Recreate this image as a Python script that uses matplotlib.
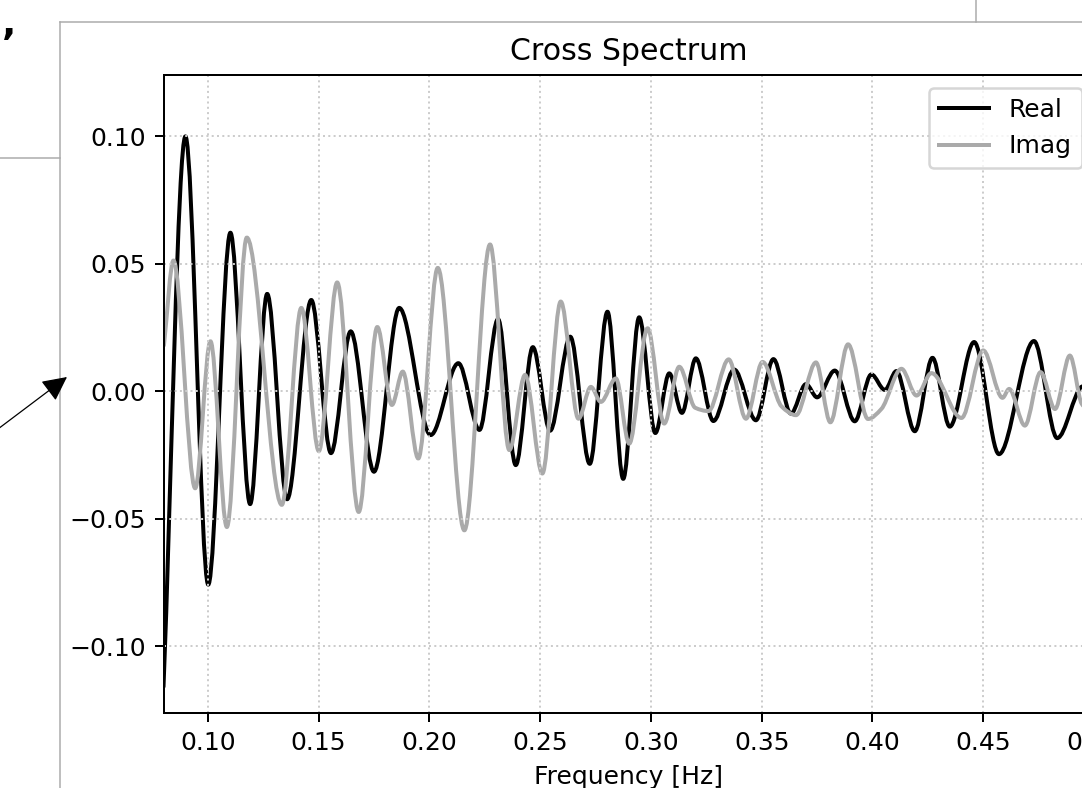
import matplotlib
matplotlib.use("Agg")
import matplotlib.pyplot as plt
import numpy as np
from matplotlib.lines import Line2D
from matplotlib.path import Path
from matplotlib.patches import PathPatch
from matplotlib.text import Annotation

DPI = 180

# peaks / troughs
real_f = [0.0800, 0.0899, 0.1002, 0.1102, 0.1191, 0.1268, 0.1358, 0.1467, 0.1556,
          0.1645, 0.1750, 0.1864, 0.2006, 0.2131, 0.2226, 0.2310, 0.2390, 0.2467,
          0.2545, 0.2636, 0.2724, 0.2804, 0.2875, 0.2947, 0.3020, 0.3083, 0.3140,
          0.3203, 0.3282, 0.3376, 0.3474, 0.3553, 0.3632, 0.3700, 0.3750, 0.3830,
          0.3920, 0.3995, 0.4056, 0.4108, 0.4191, 0.4271, 0.4349, 0.4459, 0.4571,
          0.4729, 0.4834, 0.4945, 0.4980]
real_v = [-0.1160, 0.1000, -0.0759, 0.0622, -0.0443, 0.0382, -0.0424, 0.0358, -0.0243,
          0.0235, -0.0316, 0.0327, -0.0172, 0.0110, -0.0152, 0.0283, -0.0290, 0.0173,
          -0.0155, 0.0214, -0.0285, 0.0312, -0.0344, 0.0290, -0.0164, 0.0070, -0.0085,
          0.0129, -0.0117, 0.0085, -0.0114, 0.0126, -0.0088, 0.0028, -0.0024, 0.0081,
          -0.0118, 0.0066, 0.0005, 0.0079, -0.0157, 0.0131, -0.0139, 0.0193, -0.0247,
          0.0197, -0.0184, 0.0018, 0.0028]

imag_f = [0.0802, 0.0845, 0.0943, 0.1012, 0.1086, 0.1176, 0.1334, 0.1422, 0.1501,
          0.1584, 0.1681, 0.1765, 0.1831, 0.1880, 0.1950, 0.2038, 0.2158, 0.2274,
          0.2361, 0.2432, 0.2510, 0.2593, 0.2673, 0.2729, 0.2774, 0.2842, 0.2902,
          0.2985, 0.3060, 0.3128, 0.3200, 0.3260, 0.3351, 0.3429, 0.3504, 0.3590,
          0.3655, 0.3745, 0.3810, 0.3890, 0.3980, 0.4040, 0.4131, 0.4199, 0.4266,
          0.4402, 0.4500, 0.4587, 0.4617, 0.4688, 0.4759, 0.4824, 0.4891, 0.4945,
          0.4980]
imag_v = [0.0180, 0.0513, -0.0381, 0.0196, -0.0533, 0.0603, -0.0446, 0.0327, -0.0235,
          0.0427, -0.0474, 0.0252, -0.0054, 0.0077, -0.0264, 0.0484, -0.0546, 0.0576,
          -0.0231, 0.0064, -0.0323, 0.0352, -0.0108, 0.0017, -0.0042, 0.0050, -0.0206,
          0.0247, -0.0127, 0.0096, -0.0065, -0.0078, 0.0125, -0.0108, 0.0115, -0.0060,
          -0.0094, 0.0113, -0.0122, 0.0184, -0.0109, -0.0070, 0.0088, -0.0017, 0.0071,
          -0.0105, 0.0160, -0.0026, 0.0009, -0.0135, 0.0075, -0.0070, 0.0140, -0.0050,
          -0.0080]


def smooth_path(xs, ys):
    # bezier through the points, flat tangent at peaks/troughs (monotone cubic)
    x = np.asarray(xs, float)
    y = np.asarray(ys, float)
    h = np.diff(x)
    d = np.diff(y) / h
    m = np.zeros_like(y)
    for i in range(1, len(y) - 1):
        if d[i - 1] * d[i] > 0:
            w1 = 2 * h[i] + h[i - 1]
            w2 = h[i] + 2 * h[i - 1]
            m[i] = (w1 + w2) / (w1 / d[i - 1] + w2 / d[i])
    m[0] = d[0]
    m[-1] = d[-1]
    verts = [(x[0], y[0])]
    codes = [Path.MOVETO]
    for i in range(len(x) - 1):
        verts += [(x[i] + h[i] / 3, y[i] + m[i] * h[i] / 3),
                  (x[i + 1] - h[i] / 3, y[i + 1] - m[i + 1] * h[i] / 3),
                  (x[i + 1], y[i + 1])]
        codes += [Path.CURVE4] * 3
    return Path(verts, codes)


W, H = 1082, 788
fig = plt.figure(figsize=(W / DPI, H / DPI), dpi=DPI)


def px(x, y):
    return x / W, 1 - y / H


# bits of the surrounding page that show in the screenshot
grey = "#aaaaaa"
for (x0, y0), (x1, y1) in [((59.5, 22.5), (59.5, 800)), ((59.5, 22.5), (1090, 22.5)),
                           ((975.5, -5), (975.5, 22.5)), ((-5, 158.5), (59.5, 158.5))]:
    a, b = px(x0, y0)
    c, d = px(x1, y1)
    fig.add_artist(Line2D([a, c], [b, d], color=grey, lw=0.6))

fig.text(*px(9, 25), ",", fontsize=15, fontweight="bold", ha="center", va="center")
fig.add_artist(Annotation("", xy=px(67, 377), xycoords="figure fraction",
                          xytext=px(-10, 435), textcoords="figure fraction",
                          arrowprops=dict(arrowstyle="-|>,head_length=0.4,head_width=0.2",
                                          mutation_scale=21, color="black", lw=0.5,
                                          shrinkA=0, shrinkB=0)))

ax = fig.add_axes([163.5 / W, 1 - 713.3 / H, (1094 - 163.5) / W, (713.3 - 75.5) / H])
for fx, vy, col, lab in [(real_f, real_v, "black", "Real"), (imag_f, imag_v, "#aaaaaa", "Imag")]:
    ax.add_patch(PathPatch(smooth_path(fx, vy), facecolor="none", edgecolor=col, lw=1.6,
                           capstyle="round", joinstyle="round"))
    ax.plot([], [], color=col, lw=1.6, label=lab)
ax.set_xlim(0.08, 0.5)
ax.set_ylim(-0.1264, 0.1239)
ax.set_xticks([0.10, 0.15, 0.20, 0.25, 0.30, 0.35, 0.40, 0.45, 0.50])
ax.set_yticks([-0.10, -0.05, 0.00, 0.05, 0.10])
ax.grid(True, linestyle=":", color="#cccccc", lw=0.8)
ax.set_title("Cross Spectrum")
ax.set_xlabel("Frequency [Hz]")
ax.legend(loc="upper right")

fig.savefig("out.png", dpi=DPI)
